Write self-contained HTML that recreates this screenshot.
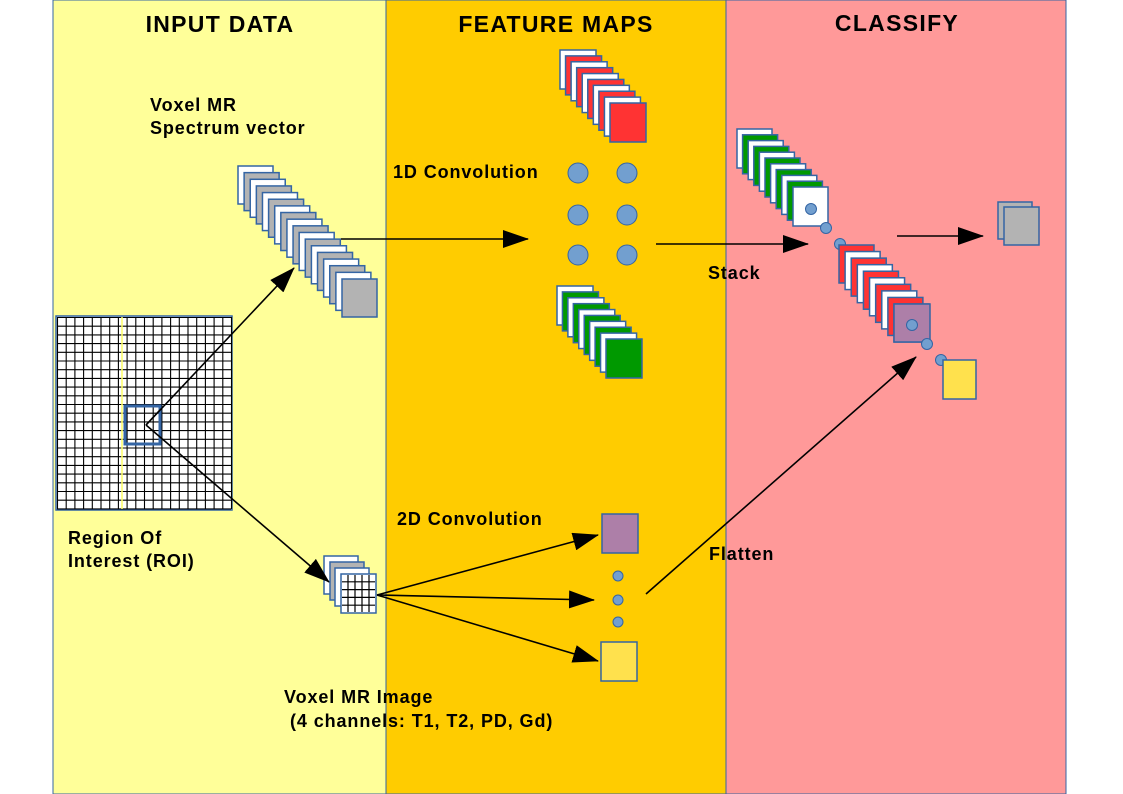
<!DOCTYPE html>
<html><head><meta charset="utf-8"><style>
html,body{margin:0;padding:0;background:#fff;}
svg{display:block;}
text{font-family:"Liberation Sans",sans-serif;font-weight:bold;fill:#000;letter-spacing:0.9px;}
</style></head><body>
<svg id="s" width="1123" height="794" viewBox="0 0 1123 794" xmlns="http://www.w3.org/2000/svg">
<defs>
<marker id="ah" markerWidth="26" markerHeight="18" refX="25" refY="9" orient="auto" markerUnits="userSpaceOnUse">
<path d="M0,0 L26,9 L0,18 Z" fill="#000"/>
</marker>
</defs>
<rect x="53" y="0" width="333" height="794" fill="#ffff99" stroke="#3465a4" stroke-width="1"/>
<rect x="386" y="0" width="340" height="794" fill="#ffcc00" stroke="#3465a4" stroke-width="1"/>
<rect x="726" y="0" width="340" height="794" fill="#ff9999" stroke="#3465a4" stroke-width="1"/>
<text x="220" y="32" font-size="23" text-anchor="middle" style="letter-spacing:1.3px">INPUT DATA</text>
<text x="556" y="32" font-size="23" text-anchor="middle" style="letter-spacing:1.3px">FEATURE MAPS</text>
<text x="897" y="31" font-size="23" text-anchor="middle" style="letter-spacing:1.3px">CLASSIFY</text>
<text x="150" y="111" font-size="18">Voxel MR</text>
<text x="150" y="134" font-size="18">Spectrum vector</text>
<text x="393" y="178" font-size="18">1D Convolution</text>
<text x="708" y="279" font-size="18">Stack</text>
<text x="68" y="544" font-size="18">Region Of</text>
<text x="68" y="567" font-size="18">Interest (ROI)</text>
<text x="397" y="525" font-size="18">2D Convolution</text>
<text x="709" y="560" font-size="18">Flatten</text>
<text x="284" y="703" font-size="18">Voxel MR Image</text>
<text x="290" y="727" font-size="18">(4 channels: T1, T2, PD, Gd)</text>
<g id="dyn"></g>
</svg>
<script>
var g=document.getElementById('dyn'),NS='http://www.w3.org/2000/svg';
function el(t,a){var e=document.createElementNS(NS,t);for(var k in a)e.setAttribute(k,a[k]);g.appendChild(e);return e;}
function R(x,y,w,h,f,sw){el('rect',{x:x,y:y,width:w,height:h,fill:f,stroke:'#3465a4','stroke-width':sw||1.5});}
function C(x,y,r){el('circle',{cx:x,cy:y,r:r,fill:'#729fcf',stroke:'#3465a4','stroke-width':1});}
function stack(x0,y0,x1,y1,n,w,h,cols){for(var i=0;i<n;i++){var x=x0+(x1-x0)*i/(n-1),y=y0+(y1-y0)*i/(n-1);R(x,y,w,h,cols[i%cols.length]);}}
stack(238,166,342,279,18,35,38,['#fff','#b3b3b3']);
stack(560,50,610,103,10,36,39,['#fff','#ff3333']);
stack(557,286,606,339,10,36,39,['#fff','#009900']);
[173,215,255].forEach(function(y){C(578,y,10);C(627,y,10);});
stack(737,129,793,187,11,35,39,['#fff','#009900']);
C(811,209,5.5);C(826,228,5.5);C(840,244,5.5);
stack(839,245,894,304,10,35,38,['#ff3333','#fff']);
R(894,304,36,38,'#ad7fa8');
C(912,325,5.5);C(927,344,5.5);C(941,360,5.5);
R(943,360,33,39,'#ffe14d');
R(998,202,34,37,'#b3b3b3');R(1004,207,35,38,'#b3b3b3');
R(56,316,176,194,'#fff',1.5);
var s='';for(var i=0;i<=20;i++){var x=57.5+i*8.7;s+='M'+x+',317V509';}
for(var j=0;j<=22;j++){var y=317.5+j*8.7;s+='M57,'+y+'H231';}
el('path',{d:s,stroke:'#000','stroke-width':1.1,fill:'none'});
el('line',{x1:122,y1:317,x2:122,y2:509,stroke:'#ffff66','stroke-width':1.5});
el('rect',{x:125,y:406,width:35,height:38,fill:'none',stroke:'#3465a4','stroke-width':3});
R(324,556,34,38,'#fff');R(330,562,34,38,'#b3b3b3');R(335,568,34,38,'#fff');R(341,574,35,39,'#fff');
var s2='';for(var i=1;i<5;i++){s2+='M'+(341+i*7)+',575V612';s2+='M342,'+(574+i*7.8)+'H375';}
el('path',{d:s2,stroke:'#000','stroke-width':1.2});
R(602,514,36,39,'#ad7fa8');R(601,642,36,39,'#ffe14d');
C(618,576,5);C(618,600,5);C(618,622,5);
function A(x1,y1,x2,y2){el('line',{x1:x1,y1:y1,x2:x2,y2:y2,stroke:'#000','stroke-width':1.6,'marker-end':'url(#ah)'});}
function L(x1,y1,x2,y2){el('line',{x1:x1,y1:y1,x2:x2,y2:y2,stroke:'#000','stroke-width':1.6});}
A(341,239,528,239);A(656,244,808,244);A(897,236,983,236);
L(146,425,160,410);A(146,425,294,268);A(146,425,329,582);
A(377,595,598,535);A(377,595,594,600);A(377,595,598,661);
A(646,594,916,357);
</script>
</body></html>
